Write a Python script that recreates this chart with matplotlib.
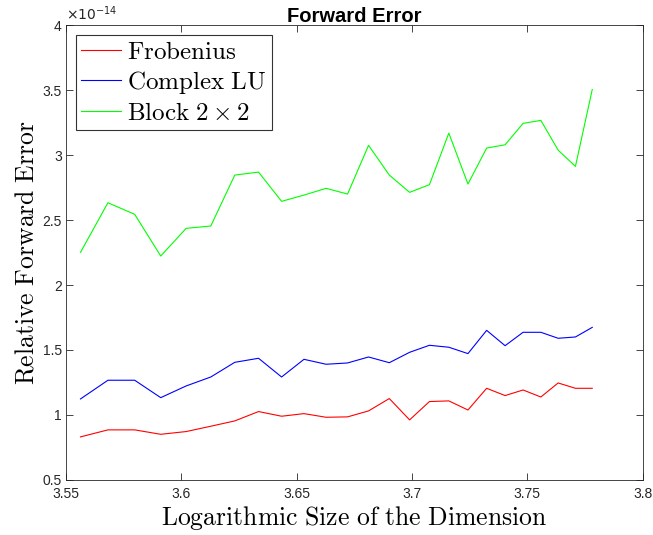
import matplotlib
matplotlib.use("Agg")
import matplotlib.pyplot as plt
from matplotlib.ticker import FormatStrFormatter

plt.rcParams['mathtext.fontset'] = 'cm'
plt.rcParams['font.family'] = ['Liberation Sans', 'DejaVu Sans']

# log10 of the dimension (3600, 3700, ..., 6000)
log_size = [3.5563, 3.5682, 3.5798, 3.5911, 3.6021, 3.6128, 3.6232, 3.6335,
            3.6435, 3.6532, 3.6628, 3.6721, 3.6812, 3.6902, 3.6990, 3.7076,
            3.7160, 3.7243, 3.7324, 3.7404, 3.7482, 3.7559, 3.7634, 3.7709,
            3.7782]

# relative forward errors, in units of 1e-14
frobenius = [0.831, 0.885, 0.885, 0.851, 0.872, 0.913, 0.954, 1.026, 0.990,
             1.010, 0.982, 0.985, 1.031, 1.126, 0.962, 1.103, 1.108, 1.038,
             1.205, 1.149, 1.192, 1.138, 1.246, 1.205, 1.205]
complex_lu = [1.123, 1.267, 1.267, 1.133, 1.223, 1.292, 1.405, 1.436, 1.292,
              1.428, 1.390, 1.400, 1.446, 1.402, 1.482, 1.536, 1.521, 1.472,
              1.651, 1.533, 1.636, 1.636, 1.590, 1.600, 1.674]
block_2x2 = [2.251, 2.633, 2.544, 2.223, 2.436, 2.454, 2.846, 2.869, 2.644,
             2.692, 2.744, 2.700, 3.075, 2.846, 2.713, 2.772, 3.169, 2.777,
             3.054, 3.079, 3.244, 3.267, 3.038, 2.913, 3.505]

x_ticks = [3.55, 3.6, 3.65, 3.7, 3.75, 3.8]
y_ticks = [0.5, 1, 1.5, 2, 2.5, 3, 3.5, 4]

fig = plt.figure(figsize=(6.53, 5.35), dpi=100)
ax = fig.add_axes([0.101, 0.103, 0.883, 0.850])

ax.plot(log_size, frobenius, color='#ff0000', lw=0.8, label=r'$\mathrm{Frobenius}$')
ax.plot(log_size, complex_lu, color='#0000ff', lw=0.8, label=r'$\mathrm{Complex\ LU}$')
ax.plot(log_size, block_2x2, color='#00ff00', lw=0.8, label=r'$\mathrm{Block}\ 2\times2$')

ax.set_xlim(3.55, 3.8)
ax.set_ylim(0.5, 4)
ax.set_xticks(x_ticks)
ax.set_yticks(y_ticks)
ax.xaxis.set_major_formatter(FormatStrFormatter('%g'))
ax.yaxis.set_major_formatter(FormatStrFormatter('%g'))

grey = '#262626'
for s in ax.spines.values():
    s.set_color(grey)
    s.set_linewidth(0.6)
ax.tick_params(direction='in', length=5, width=0.6, colors=grey,
               top=True, right=True, labelsize=10)
ax.tick_params(axis='x', pad=5)
ax.tick_params(axis='y', pad=3)

ax.text(0.0, 1.004, r'$\times10^{-14}$', transform=ax.transAxes,
        fontsize=10, color=grey, ha='left', va='bottom',
        math_fontfamily='dejavusans')

ax.set_title('Forward Error', fontsize=14.5, fontweight='bold', pad=2)
ax.set_xlabel(r'$\mathrm{Logarithmic\ Size\ of\ the\ Dimension}$', fontsize=18.5, labelpad=2)
ax.set_ylabel(r'$\mathrm{Relative\ Forward\ Error}$', fontsize=18.5, labelpad=3)

leg = ax.legend(loc='upper left', fontsize=18, frameon=True, fancybox=False,
                edgecolor='black', borderaxespad=0.4, handlelength=1.6,
                handletextpad=0.25, labelspacing=0.2, borderpad=0.2)
leg.get_frame().set_linewidth(0.8)

fig.savefig('out.png', dpi=100)
